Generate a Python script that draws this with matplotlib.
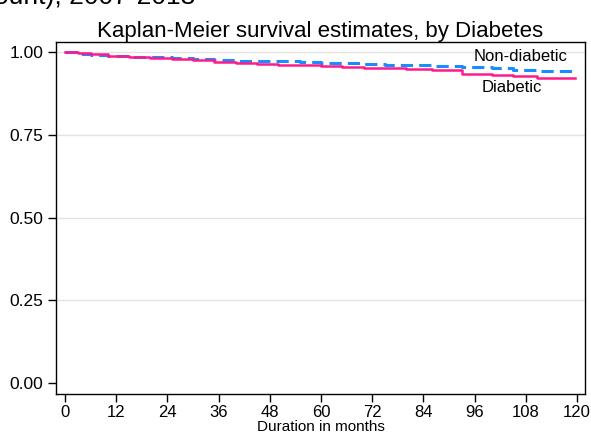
import numpy as np
import matplotlib
matplotlib.use("Agg")
import matplotlib.pyplot as plt

plt.rcParams['font.family'] = ['Liberation Sans', 'DejaVu Sans']

# step points (months, survival)
diab_t = [0, 3, 6, 10, 15, 20, 25, 30, 35, 40, 45, 50, 55, 60, 65, 70, 75, 80, 86, 93, 100, 105, 110.6, 119.5]
diab_s = [1.000, 0.996, 0.993, 0.989, 0.985, 0.982, 0.978, 0.975, 0.971, 0.968, 0.964, 0.962, 0.960, 0.957, 0.955, 0.952, 0.950, 0.947, 0.945, 0.932, 0.930, 0.928, 0.921, 0.921]
nond_t = [0, 3, 6, 10, 15, 20, 25, 30, 35, 40, 45, 50, 55, 60, 65, 70, 75, 80, 86, 93, 100, 105, 110.6, 120]
nond_s = [1.000, 0.994, 0.991, 0.989, 0.986, 0.984, 0.981, 0.978, 0.976, 0.974, 0.973, 0.972, 0.970, 0.968, 0.966, 0.964, 0.962, 0.961, 0.959, 0.955, 0.950, 0.946, 0.943, 0.942]

xticks = [0, 12, 24, 36, 48, 60, 72, 84, 96, 108, 120]
yticks = [0, 0.25, 0.5, 0.75, 1.0]

fig = plt.figure(figsize=(5.91, 4.34), dpi=100)
ax = fig.add_axes([56/591, 1 - 394/434, (585-56)/591, (394-42)/434])

for y in yticks[1:]:
    ax.axhline(y, color='#e3e3e3', lw=1, zorder=0)

ax.step(nond_t, nond_s, where='post', color='#1a8cff', lw=2.2, ls=(0, (4, 2)), label='Non-diabetic')
ax.step(diab_t, diab_s, where='post', color='#ff1a8c', lw=1.8, label='Diabetic')

ax.text(106.9, 0.985, 'Non-diabetic', ha='center', va='center', fontsize=12)
ax.text(104.8, 0.894, 'Diabetic', ha='center', va='center', fontsize=12)

ax.set_xlim(-2.1, 121.9)
ax.set_ylim(-0.033, 1.03)
ax.set_xticks(xticks)
ax.set_yticks(yticks)
ax.set_yticklabels(['%.2f' % v for v in yticks])
ax.tick_params(direction='out', length=6, width=1, labelsize=12.5, pad=3)
ax.tick_params(axis='x', labelsize=12, pad=2)
ax.set_xlabel('Duration in months', fontsize=11, labelpad=0)
for s in ax.spines.values():
    s.set_linewidth(1)
ax.set_title('Kaplan-Meier survival estimates, by Diabetes', fontsize=16, pad=3)

fig.text(-0.01, 1 - 4/434, 'ount), 2007-2013', fontsize=19, va='baseline', ha='left')

fig.savefig('out.png', dpi=100)
